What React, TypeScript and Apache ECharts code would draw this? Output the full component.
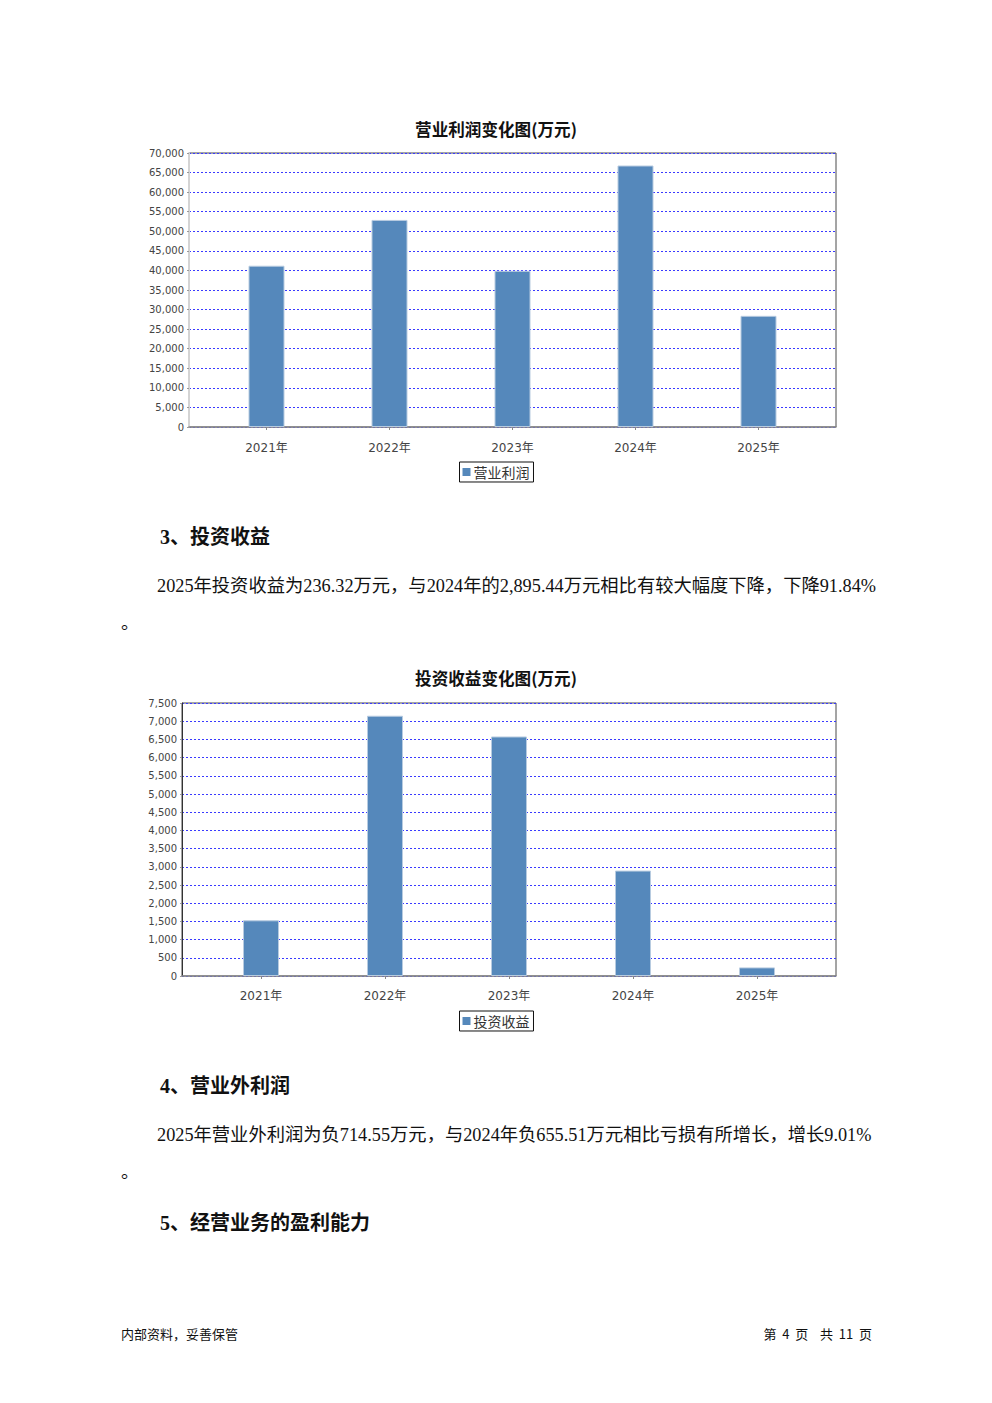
import React, { useEffect, useRef } from "react";
import * as echarts from "echarts";

const categories = ["2021年", "2022年", "2023年", "2024年", "2025年"];
const profitName = "营业利润";
const profitValues = [41200, 52900, 39900, 66800, 28400];
const profitMax = 70000;
const profitStep = 5000;
const investName = "投资收益";
const investValues = [1530, 7150, 6580, 2895.44, 236.32];
const investMax = 7500;
const investStep = 500;

const chartTitles = ["营业利润变化图(万元)", "投资收益变化图(万元)"];
const headings = ["3、投资收益", "4、营业外利润", "5、经营业务的盈利能力"];
const paragraphs = [
  "2025年投资收益为236.32万元，与2024年的2,895.44万元相比有较大幅度下降，下降91.84%",
  "2025年营业外利润为负714.55万元，与2024年负655.51万元相比亏损有所增长，增长9.01%",
];
const footerLeft = "内部资料，妥善保管";
const footerRight = "第  4  页    共  11  页";

const BAR = "#5588bb";
const GRIDLINE = "#3a3aff";
const fmt = (v: number) => Math.round(v).toLocaleString("en-US");

function frameGrid(left: number, top: number, width: number, height: number) {
  return { left, top, width, height, show: true, borderColor: "#4a4a4a", borderWidth: 1, backgroundColor: "#fff", containLabel: false };
}

function valueAxis(gridIndex: number, max: number, step: number, axisColor: string, axisWidth: number, show: boolean) {
  return {
    type: "value",
    gridIndex,
    min: 0,
    max,
    interval: step,
    show,
    axisLine: { show: true, lineStyle: { color: axisColor, width: axisWidth } },
    axisTick: { show: true, length: 2, lineStyle: { color: "#999" } },
    axisLabel: { show: true, formatter: fmt, fontSize: 10, color: "#444", fontFamily: "DejaVu Sans", margin: 5 },
    splitLine: { show: true, lineStyle: { color: GRIDLINE, type: [2, 2], width: 1 } },
  };
}

function hiddenValueAxis(gridIndex: number, max: number) {
  return { type: "value", gridIndex, min: 0, max, show: false, splitLine: { show: false } };
}

function lineAxis(gridIndex: number, offset: number) {
  return {
    type: "category",
    gridIndex,
    data: categories,
    offset,
    axisLine: { show: true, lineStyle: { color: "#8a8a8a", width: 1.5 } },
    axisTick: { show: false },
    axisLabel: { show: false },
    splitLine: { show: false },
  };
}

function labelAxis(gridIndex: number, offset: number) {
  return {
    type: "category",
    gridIndex,
    data: categories,
    offset,
    axisLine: { show: false },
    axisTick: { show: true, alignWithLabel: true, length: 3, lineStyle: { color: "#888" } },
    axisLabel: { show: true, fontSize: 12, color: "#444", fontFamily: "DejaVu Sans, Noto Sans CJK SC", margin: 5 },
    splitLine: { show: false },
  };
}

function legendFor(name: string, top: number) {
  return {
    data: [name],
    left: "center",
    top,
    icon: "rect",
    itemWidth: 8,
    itemHeight: 8,
    itemGap: 4,
    padding: [3, 4, 3, 3],
    borderColor: "#111",
    borderWidth: 1,
    selectedMode: false,
    itemStyle: { borderWidth: 0 },
    textStyle: { fontSize: 14, color: "#333", fontFamily: "Noto Sans CJK SC", padding: [0, 0, 0, -2] },
  };
}

function txt(text: string, x: number, y: number, size: number, opts: any = {}) {
  const align = opts.align || "left";
  const valign = opts.valign || "middle";
  return {
    type: "text",
    x,
    y,
    silent: true,
    style: {
      text,
      fontSize: size,
      fontWeight: opts.bold ? "bold" : "normal",
      fontFamily: opts.family || "'Liberation Serif', 'Noto Sans CJK SC'",
      fill: opts.color || "#111",
      textAlign: align,
      align,
      textVerticalAlign: valign,
      verticalAlign: valign,
    },
  };
}

export default function App() {
  const ref = useRef<HTMLDivElement>(null);
  useEffect(() => {
    if (!ref.current) return;
    const chart = echarts.init(ref.current, undefined, { renderer: "svg" });
    const option: any = {
      animation: false,
      backgroundColor: "#fff",
      grid: [
        frameGrid(189, 153, 647, 274),
        { left: 205, top: 153, width: 615, height: 274, show: false },
        frameGrid(182, 703, 654, 273),
        { left: 199, top: 703, width: 620, height: 273, show: false },
      ],
      xAxis: [lineAxis(0, 10), labelAxis(1, 10), lineAxis(2, 9), labelAxis(3, 9)],
      yAxis: [
        valueAxis(0, profitMax, profitStep, "#d4d4d4", 2, true),
        hiddenValueAxis(1, profitMax),
        valueAxis(2, investMax, investStep, "#333", 1, true),
        hiddenValueAxis(3, investMax),
      ],
      legend: [legendFor(profitName, 462), legendFor(investName, 1011)],
      series: [
        {
          name: profitName,
          type: "bar",
          xAxisIndex: 1,
          yAxisIndex: 1,
          data: profitValues,
          barWidth: 36,
          itemStyle: { color: BAR, borderColor: "#b7cbe0", borderWidth: 1 },
        },
        {
          name: investName,
          type: "bar",
          xAxisIndex: 3,
          yAxisIndex: 3,
          data: investValues,
          barWidth: 36,
          itemStyle: { color: BAR, borderColor: "#b7cbe0", borderWidth: 1 },
        },
      ],
      graphic: [
        txt(chartTitles[0], 496, 129, 16.6, { align: "center", bold: true, family: "Noto Sans CJK SC" }),
        txt(chartTitles[1], 496, 678, 16.6, { align: "center", bold: true, family: "Noto Sans CJK SC" }),
        txt(headings[0], 160, 537, 20, { bold: true }),
        txt(paragraphs[0], 157, 586, 18.3),
        txt("。", 121, 614, 18, { valign: "top" }),
        txt(headings[1], 160, 1086, 20, { bold: true }),
        txt(paragraphs[1], 157, 1135, 18.3),
        txt("。", 121, 1163, 18, { valign: "top" }),
        txt(headings[2], 160, 1223, 20, { bold: true }),
        txt(footerLeft, 121, 1333, 13, { family: "Noto Sans CJK SC" }),
        txt(footerRight, 872, 1333, 13, { align: "right", family: "Noto Sans CJK SC" }),
      ],
    };
    chart.setOption(option);
    return () => chart.dispose();
  }, []);
  return <div ref={ref} style={{ position: "absolute", left: 0, top: 0, width: 992, height: 1403 }} />;
}
